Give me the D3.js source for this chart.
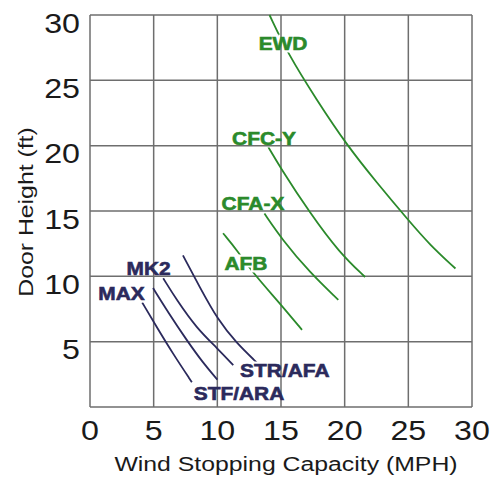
<!DOCTYPE html>
<html lang="en">
<head>
    <meta charset="UTF-8">
    <title>Door height vs wind stopping capacity</title>
    <script src="https://d3js.org/d3.v7.min.js"></script>
    <style>
body { margin: 0; background: #fff; }
text { font-family: "Liberation Sans", Arial, Helvetica, sans-serif; }
</style>
</head>
<body>
    <div id="container"></div>
    <script>
// Tick values
const xTicks = [0, 5, 10, 15, 20, 25, 30];
const yTicks = [5, 10, 15, 20, 25, 30];

// Green door models  (mph, ft)
const ewd  = [[14.1, 30], [15.5, 27.1], [17.8, 23.5], [20.2, 20.0], [22.5, 17.2], [25.0, 14.3], [26.7, 12.4], [28.7, 10.6]];
const cfcY = [[14.0, 19.9], [14.9, 18.4], [17.3, 14.8], [19.6, 11.8], [21.6, 9.95]];
const cfaX = [[13.7, 14.8], [15.1, 12.8], [17.3, 10.25], [19.5, 8.2]];
const afb  = [[10.45, 13.3], [11.55, 12.0], [12.8, 10.25], [14.9, 7.95], [16.65, 5.9]];

// Navy door models
const strAfa = [[7.3, 11.6], [8.6, 9.2], [10.05, 6.65], [11.5, 4.9], [13.1, 3.4]];
const mk2    = [[5.75, 9.85], [6.8, 8.2], [8.4, 6.0], [10.0, 4.5], [11.25, 3.2]];
const stfAra = [[4.95, 9.1], [6.1, 7.3], [7.6, 5.1], [8.9, 3.35], [10.0, 2.1]];
const max    = [[4.1, 8.0], [5.25, 6.1], [6.5, 4.1], [8.0, 1.9]];

// Curve labels, anchored in data units (text centre, baseline)
const greenLabels = [["EWD", 15.16, 27.3], ["CFC-Y", 13.67, 20.05], ["CFA-X", 12.8, 15.07], ["AFB", 12.25, 10.48]];
const navyLabels  = [["MK2", 4.6, 10.1], ["MAX", 2.47, 8.19], ["STR/AFA", 15.3, 2.3], ["STF/ARA", 11.7, 0.54]];

const width = 496;
const height = 477;
const green = "#2b8a2b";
const navy = "#2b2a5c";
const gridColor = "#6e6e6e";

const svg = d3.select("#container")
  .append("svg")
  .attr("width", width)
  .attr("height", height);

const x = d3.scaleLinear().domain([0, 30]).range([90, 472]);
const y = d3.scaleLinear().domain([0, 30]).range([407, 15]);

// the original type is set a bit wide, so stretch text along its length
function stretch(sel, k) {
  sel.each(function () {
    const w = this.getComputedTextLength();
    d3.select(this).attr("textLength", w * k).attr("lengthAdjust", "spacingAndGlyphs");
  });
}

// grid
const grid = svg.append("g")
  .attr("stroke", gridColor)
  .attr("stroke-width", 1.5);
grid.selectAll("line.v")
  .data(x.ticks(6))
  .join("line")
  .attr("class", "v")
  .attr("x1", d => x(d)).attr("x2", d => x(d))
  .attr("y1", y(0)).attr("y2", y(30));
grid.selectAll("line.h")
  .data(y.ticks(6))
  .join("line")
  .attr("class", "h")
  .attr("x1", x(0)).attr("x2", x(30))
  .attr("y1", d => y(d)).attr("y2", d => y(d));

// curves go right above the grid
const curves = svg.append("g")
  .attr("mask", "url(#labelGap)")
  .attr("fill", "none")
  .attr("stroke-width", 1.8);

// tick labels
const xt = svg.append("g").selectAll("text")
  .data(xTicks)
  .join("text")
  .attr("x", d => x(d))
  .attr("y", y(0) + 33)
  .attr("text-anchor", "middle")
  .attr("font-size", 28)
  .attr("fill", "#1a1a1a")
  .text(d => d);
stretch(xt, 1.15);

const yt = svg.append("g").selectAll("text")
  .data(yTicks)
  .join("text")
  .attr("x", x(0) - 10)
  .attr("y", d => y(d) + 17.5)
  .attr("text-anchor", "end")
  .attr("font-size", 28)
  .attr("fill", "#1a1a1a")
  .text(d => d);
stretch(yt, 1.15);

// axis titles
const xTitle = svg.append("text")
  .attr("x", 286)
  .attr("y", 471)
  .attr("text-anchor", "middle")
  .attr("font-size", 20)
  .attr("fill", "#1a1a1a")
  .text("Wind Stopping Capacity (MPH)");
stretch(xTitle, 1.24);

const yTitle = svg.append("text")
  .attr("transform", "translate(33,212) rotate(-90)")
  .attr("text-anchor", "middle")
  .attr("font-size", 20)
  .attr("fill", "#1a1a1a")
  .text("Door Height (ft)");
stretch(yTitle, 1.24);

// labels
const allLabels = greenLabels.map(d => ({ name: d[0], x: d[1], y: d[2], color: green }))
  .concat(navyLabels.map(d => ({ name: d[0], x: d[1], y: d[2], color: navy })));

const labelText = svg.append("g").selectAll("text")
  .data(allLabels)
  .join("text")
  .attr("x", d => x(d.x))
  .attr("y", d => y(d.y))
  .attr("text-anchor", "middle")
  .attr("font-size", 19)
  .attr("font-weight", "bold")
  .attr("fill", d => d.color)
  .attr("stroke", d => d.color)
  .attr("stroke-width", 0.6)
  .text(d => d.name);
stretch(labelText, 1.1);
labelText.each(function (d) { d.len = +this.getAttribute("textLength"); });

// mask: curves break where they run under a label
const mask = svg.append("defs").append("mask")
  .attr("id", "labelGap")
  .attr("maskUnits", "userSpaceOnUse")
  .attr("x", 0).attr("y", 0)
  .attr("width", width).attr("height", height);
mask.append("rect")
  .attr("width", width).attr("height", height)
  .attr("fill", "white");
mask.selectAll("text")
  .data(allLabels)
  .join("text")
  .attr("x", d => x(d.x))
  .attr("y", d => y(d.y))
  .attr("text-anchor", "middle")
  .attr("font-size", 19)
  .attr("font-weight", "bold")
  .attr("textLength", d => d.len)
  .attr("lengthAdjust", "spacingAndGlyphs")
  .attr("fill", "black")
  .attr("stroke", "black")
  .attr("stroke-width", 5)
  .text(d => d.name);

const line = d3.line()
  .x(d => x(d[0]))
  .y(d => y(d[1]))
  .curve(d3.curveBasis);

curves.selectAll("path.green")
  .data([ewd, cfcY, cfaX, afb])
  .join("path")
  .attr("class", "green")
  .attr("stroke", green)
  .attr("d", line);

curves.selectAll("path.navy")
  .data([strAfa, mk2, stfAra, max])
  .join("path")
  .attr("class", "navy")
  .attr("stroke", navy)
  .attr("d", line);
</script>
</body>
</html>
